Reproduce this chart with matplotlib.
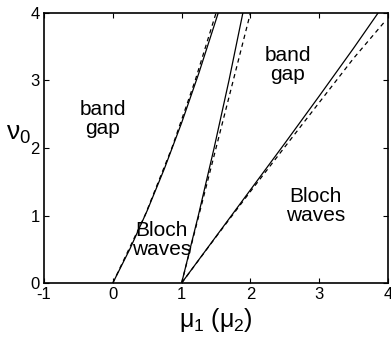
import numpy as np
import matplotlib
matplotlib.use("Agg")
import matplotlib.pyplot as plt

plt.rcParams['font.family'] = ['Liberation Sans', 'DejaVu Sans']
plt.rcParams['mathtext.fontset'] = 'custom'
plt.rcParams['mathtext.rm'] = 'Liberation Sans'
plt.rcParams['mathtext.it'] = 'Liberation Sans'
plt.rcParams['axes.unicode_minus'] = False

# curve 1 (left boundary): mu -> nu
c1_mu = [0.0, 0.25, 0.5, 0.75, 1.0, 1.25, 1.5, 1.532]
c1_nu = [0.0, 0.508, 1.073, 1.695, 2.373, 3.108, 3.899, 4.0]
d1_nu = [0.0, 1.0, 2.0, 3.0, 4.0]
d1_mu = [0.0, 0.467, 0.858, 1.197, 1.50]

# curve 2 (steep line from mu=1)
c2_nu = [0.0, 1.0, 2.0, 3.0, 4.0]
c2_mu = [1.0, 1.243, 1.472, 1.688, 1.89]
d2_nu = [0.0, 1.0, 2.0, 3.0, 4.0]
d2_mu = [1.0, 1.25, 1.5, 1.75, 2.0]

# curve 3 (shallow line from mu=1)
c3_mu = [1.0, 1.5, 2.0, 2.5, 3.0, 3.5, 3.855]
c3_nu = [0.0, 0.69, 1.38, 2.07, 2.77, 3.48, 4.0]
d3_mu = [1.0, 1.5, 2.0, 2.5, 3.0, 3.5, 3.95]
d3_nu = [0.0, 0.684, 1.356, 2.016, 2.674, 3.33, 3.87]

fig = plt.figure(figsize=(3.91, 3.41), dpi=100)
ax = fig.add_axes([0.1125, 0.170, 0.880, 0.792])

lw = 0.9
ax.plot(c1_mu, c1_nu, color='black', lw=lw)
ax.plot(d1_mu, d1_nu, color='black', lw=lw, linestyle=(0, (3.5, 3)))
ax.plot(c2_mu, c2_nu, color='black', lw=lw)
ax.plot(d2_mu, d2_nu, color='black', lw=lw, linestyle=(0, (3.5, 3)))
ax.plot(c3_mu, c3_nu, color='black', lw=lw)
ax.plot(d3_mu, d3_nu, color='black', lw=lw, linestyle=(0, (3.5, 3)))

ax.set_xlim(-1, 4)
ax.set_ylim(0, 4)
ax.set_xticks([-1, 0, 1, 2, 3, 4])
ax.set_yticks([0, 1, 2, 3, 4])
ax.tick_params(direction='in', top=True, right=True, length=3.5, width=0.8,
               labelsize=12, pad=3)
for s in ax.spines.values():
    s.set_linewidth(1.2)

txt = dict(fontsize=15, ha='center', va='center', linespacing=1.0)
ax.text(-0.145, 2.43, "band\ngap", **txt)
ax.text(2.545, 3.23, "band\ngap", **txt)
ax.text(0.713, 0.64, "Bloch\nwaves", **txt)
ax.text(2.95, 1.14, "Bloch\nwaves", **txt)

ax.set_xlabel(r'$\mu_1$ ($\mu_2$)', fontsize=18, labelpad=3)
ax.set_ylabel(r'$\nu_0$', fontsize=19, rotation=0, va='center', ha='center')
ax.yaxis.set_label_coords(-0.075, 0.55)

fig.savefig("out.png", dpi=100)
